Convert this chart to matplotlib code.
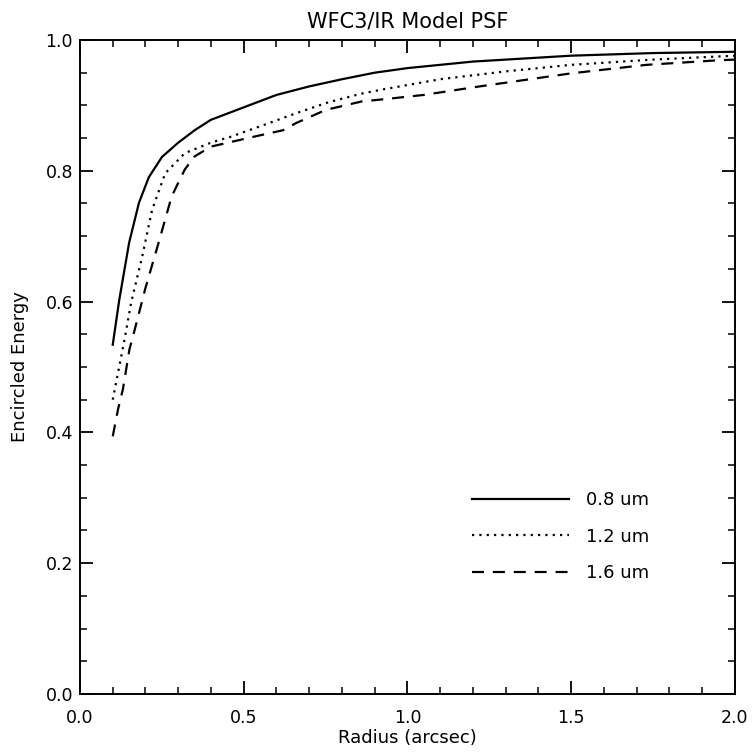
import matplotlib
matplotlib.use('Agg')
import matplotlib.pyplot as plt
from matplotlib.ticker import MultipleLocator

plt.rcParams.update({
    'font.family': 'DejaVu Sans', 'font.size': 12,
    'xtick.direction': 'in', 'ytick.direction': 'in',
    'xtick.top': True, 'ytick.right': True,
    'xtick.major.size': 9.4, 'ytick.major.size': 9.4,
    'xtick.minor.size': 4.7, 'ytick.minor.size': 4.7,
    'xtick.major.width': 1.3, 'ytick.major.width': 1.3,
    'xtick.minor.width': 1.1, 'ytick.minor.width': 1.1,
    'axes.linewidth': 1.4,
})

# encircled energy
r_08 = [0.10, 0.12, 0.15, 0.18, 0.21, 0.25, 0.30, 0.35, 0.40, 0.50, 0.60, 0.70, 0.80, 0.90, 1.00, 1.20, 1.50, 1.75, 2.00]
ee_08 = [0.534, 0.603, 0.690, 0.751, 0.790, 0.821, 0.843, 0.862, 0.878, 0.897, 0.916, 0.929, 0.940, 0.950, 0.957, 0.967, 0.976, 0.980, 0.982]

r_12 = [0.10, 0.12, 0.136, 0.156, 0.19, 0.22, 0.26, 0.32, 0.40, 0.46, 0.55, 0.66, 0.76, 0.86, 0.92, 1.10, 1.30, 1.50, 1.75, 2.00]
ee_12 = [0.450, 0.501, 0.542, 0.598, 0.669, 0.740, 0.796, 0.827, 0.843, 0.852, 0.868, 0.888, 0.905, 0.918, 0.924, 0.940, 0.952, 0.962, 0.970, 0.976]

r_16 = [0.10, 0.116, 0.131, 0.151, 0.166, 0.20, 0.24, 0.28, 0.32, 0.35, 0.40, 0.53, 0.62, 0.66, 0.75, 0.86, 0.92, 1.05, 1.22, 1.50, 1.73, 1.95, 2.00]
ee_16 = [0.394, 0.435, 0.466, 0.527, 0.555, 0.621, 0.690, 0.761, 0.802, 0.822, 0.837, 0.852, 0.862, 0.873, 0.893, 0.906, 0.909, 0.916, 0.929, 0.949, 0.962, 0.969, 0.970]

fig = plt.figure(figsize=(7.54, 7.53), dpi=100)
ax = fig.add_axes([0.1061, 0.0784, 0.8687, 0.8685])

ax.plot(r_08, ee_08, color='black', lw=1.6, ls='-', label='0.8 um')
ax.plot(r_12, ee_12, color='black', lw=1.6, ls=(0, (1, 2.3)), label='1.2 um')
ax.plot(r_16, ee_16, color='black', lw=1.6, ls=(0, (5.4, 4.0)), label='1.6 um')

ax.set_xlim(0, 2.0)
ax.set_ylim(0, 1.0)
ax.xaxis.set_major_locator(MultipleLocator(0.5))
ax.xaxis.set_minor_locator(MultipleLocator(0.1))
ax.yaxis.set_major_locator(MultipleLocator(0.2))
ax.yaxis.set_minor_locator(MultipleLocator(0.05))
ax.xaxis.set_major_formatter('{x:.1f}')
ax.yaxis.set_major_formatter('{x:.1f}')
ax.tick_params(axis='x', which='major', pad=11, labelsize=12.5)
ax.tick_params(axis='y', which='major', pad=5, labelsize=12.5)

ax.set_xlabel('Radius (arcsec)', fontsize=13, labelpad=1)
ax.set_ylabel('Encircled Energy', fontsize=13, labelpad=12)
ax.set_title('WFC3/IR Model PSF', fontsize=15, pad=9)

ax.legend(loc='upper left', bbox_to_anchor=(0.598, 0.310), frameon=False,
          borderpad=0, borderaxespad=0,
          handlelength=5.4, handletextpad=0.95, labelspacing=1.02, fontsize=13)

fig.savefig('out.png', dpi=100)
